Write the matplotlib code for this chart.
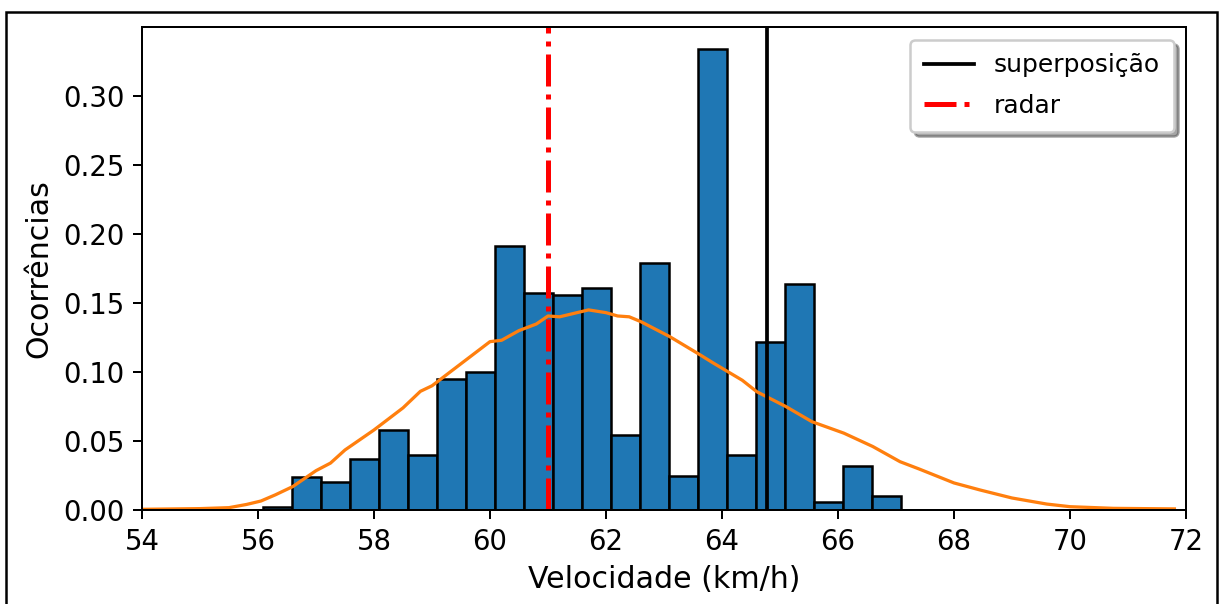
import matplotlib.pyplot as plt
import numpy as np
from matplotlib.patches import Rectangle

# bordas dos bins (largura 0.5 km/h) e alturas normalizadas
bin_start = 56.09
bin_width = 0.5
heights = [0.002, 0.024, 0.020, 0.037, 0.058, 0.040, 0.095, 0.100, 0.191, 0.157, 0.156,
           0.161, 0.054, 0.179, 0.025, 0.334, 0.040, 0.122, 0.164, 0.006, 0.032, 0.010]

# curva de densidade estimada
curve_x = [54, 55, 55.5, 55.8, 56.05, 56.3, 56.6, 57.0, 57.25, 57.5, 58.0, 58.5, 58.8, 59.0,
           59.5, 60.0, 60.2, 60.5, 60.8, 61.0, 61.2, 61.5, 61.7, 62.0, 62.2, 62.4, 62.6, 63.1,
           63.6, 63.85, 64.35, 64.6, 65.1, 65.55, 66.1, 66.6, 67.07, 67.4, 68.0, 68.45, 69.0,
           69.6, 70.0, 70.75, 71.8]
curve_y = [0.0005, 0.001, 0.0017, 0.004, 0.0065, 0.011, 0.017, 0.0285, 0.034, 0.0435, 0.058,
           0.074, 0.086, 0.090, 0.106, 0.122, 0.123, 0.130, 0.1348, 0.1406, 0.140, 0.143, 0.145,
           0.143, 0.1406, 0.140, 0.1365, 0.1256, 0.113, 0.1065, 0.094, 0.0857, 0.075, 0.064,
           0.0557, 0.046, 0.035, 0.0297, 0.0196, 0.0145, 0.0087, 0.0043, 0.0024, 0.0012, 0.0008]

v_superposicao = 64.78
v_radar = 61.0

fig = plt.figure(figsize=(1222 / 180, 604 / 180), dpi=180)
ax = fig.add_axes([142 / 1222, 1 - 510 / 604, (1186 - 142) / 1222, (510 - 27) / 604])

edges = bin_start + bin_width * np.arange(len(heights))
ax.bar(edges, heights, width=bin_width, align='edge', color='C0', edgecolor='k', linewidth=1)
ax.plot(curve_x, curve_y, color='C1', linewidth=1.3)

ax.axvline(v_superposicao, color='k', linewidth=1.5, label='superposição')
ax.axvline(v_radar, color='r', linestyle='-.', linewidth=2, label='radar')

ax.set_xlim(54, 72)
ax.set_ylim(0, 0.35)
ax.set_xticks(np.arange(54, 73, 2))
ax.set_yticks(np.arange(0, 0.31, 0.05))
ax.tick_params(labelsize=11)
ax.set_xlabel('Velocidade (km/h)', fontsize=12)
ax.set_ylabel('Ocorrências', fontsize=12)
ax.legend(loc='upper right', shadow=True, labelspacing=0.66, borderpad=0.55)

# moldura do documento
fig.add_artist(Rectangle((6 / 1222, -0.05), (1217 - 6) / 1222, 1.05 - 12 / 604,
                         transform=fig.transFigure, fill=False, edgecolor='k', linewidth=1))

fig.savefig('out.png', dpi=180)
